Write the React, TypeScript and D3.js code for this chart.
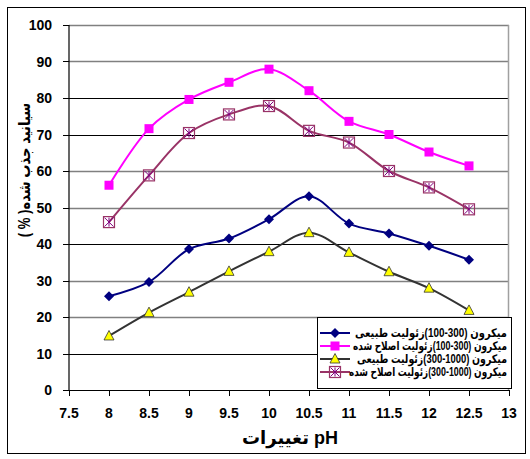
import React from "react";
import * as d3 from "d3";

const phValues = [8, 8.5, 9, 9.5, 10, 10.5, 11, 11.5, 12, 12.5];
const naturalFine = [25.7, 29.6, 38.6, 41.5, 46.8, 53.1, 45.6, 42.9, 39.5, 35.7];
const modifiedFine = [56.1, 71.6, 79.6, 84.3, 87.9, 82.0, 73.6, 70.0, 65.2, 61.4];
const naturalCoarse = [14.8, 21.2, 26.8, 32.5, 37.9, 43.1, 37.7, 32.4, 27.9, 21.8];
const modifiedCoarse = [46.0, 58.8, 70.4, 75.5, 77.8, 71.0, 67.8, 60.0, 55.5, 49.5];

const xTicks = [7.5, 8, 8.5, 9, 9.5, 10, 10.5, 11, 11.5, 12, 12.5, 13];
const yTicks = [0, 10, 20, 30, 40, 50, 60, 70, 80, 90, 100];
const darkGrid = [10, 40, 70, 80];

// legend label pieces, in visual left-to-right order
const legendPieces = [
  ["زئولیت طبیعی", "(100-300) ", "میکرون"],
  ["زئولیت اصلاح شده", "(100-300) ", "میکرون"],
  ["زئولیت طبیعی", "(300-1000) ", "میکرون"],
  ["زئولیت اصلاح شده", "(300-1000) ", "میکرون"],
];
const xTitle = "تغییرات pH";
const yTitle = "سیانید جذب شده( % )";

type Kind = "diamond" | "square" | "triangle" | "xbox";
const series: { values: number[]; color: string; kind: Kind }[] = [
  { values: naturalFine, color: "#000080", kind: "diamond" },
  { values: modifiedFine, color: "#FF00FF", kind: "square" },
  { values: naturalCoarse, color: "#333333", kind: "triangle" },
  { values: modifiedCoarse, color: "#993366", kind: "xbox" },
];

const W = 530;
const H = 459;
const x = d3.scaleLinear().domain([7.5, 13]).range([69, 509]);
const y = d3.scaleLinear().domain([0, 100]).range([390, 25]);

const FONT = "'Liberation Sans Narrow', 'Liberation Sans', Arial, 'DejaVu Sans', sans-serif";
const AFONT = "'Liberation Sans', Arial, 'DejaVu Sans', sans-serif";
const LEG_SIZE = 12;
const legendWidths = [152, 154, 150, 158];

let measureCtx: CanvasRenderingContext2D | null = null;
function measure(text: string, size: number): number {
  if (!measureCtx) {
    const c = document.createElement("canvas");
    measureCtx = c.getContext("2d");
  }
  if (!measureCtx) return text.length * size * 0.5;
  measureCtx.font = `bold ${size}px 'Liberation Sans', Arial, 'DejaVu Sans', sans-serif`;
  return measureCtx.measureText(text).width;
}

function Marker({ kind, cx, cy }: { kind: Kind; cx: number; cy: number }) {
  if (kind === "diamond") {
    const r = 5;
    return <path d={`M${cx},${cy - r}L${cx + r},${cy}L${cx},${cy + r}L${cx - r},${cy}Z`} fill="#000080" />;
  }
  if (kind === "square") {
    return <rect x={cx - 4.5} y={cy - 4.5} width={9} height={9} fill="#FF00FF" />;
  }
  if (kind === "triangle") {
    return (
      <path
        d={`M${cx},${cy - 5.5}L${cx + 5},${cy + 4}L${cx - 5},${cy + 4}Z`}
        fill="#FFFF00"
        stroke="#333333"
        strokeWidth={0.8}
      />
    );
  }
  const s = 5.5;
  return (
    <g>
      <rect x={cx - s} y={cy - s} width={2 * s} height={2 * s} fill="none" stroke="#993366" strokeWidth={1.2} />
      <path
        d={`M${cx - s + 1},${cy - s + 1}L${cx + s - 1},${cy + s - 1}M${cx + s - 1},${cy - s + 1}L${cx - s + 1},${cy + s - 1}M${cx},${cy - s + 1}L${cx},${cy + s - 1}`}
        stroke="#800080"
        strokeWidth={1}
      />
    </g>
  );
}

function LegendLabel({
  pieces,
  right,
  yy,
  target,
}: {
  pieces: string[];
  right: number;
  yy: number;
  target: number;
}) {
  const widths = pieces.map((p) => measure(p, LEG_SIZE));
  const total = widths.reduce((a, b) => a + b, 0);
  const sx = total > 0 ? target / total : 1;
  let cur = right - total;
  return (
    <g transform={`translate(${right},0) scale(${sx},1) translate(${-right},0)`}>
      {pieces.map((p, i) => {
        const px = cur;
        cur += widths[i];
        return (
          <text
            key={i}
            x={px}
            y={yy}
            textAnchor="start"
            direction="ltr"
            fontFamily={AFONT}
            fontWeight="bold"
            fontSize={LEG_SIZE}
            fill="#000"
            style={{ whiteSpace: "pre" }}
          >
            {p}
          </text>
        );
      })}
    </g>
  );
}

export default function App() {
  const line = d3
    .line<number>()
    .x((_, i) => x(phValues[i]))
    .y((d) => y(d))
    .curve(d3.curveCatmullRom.alpha(0.5));

  const legendX = 317;
  const legendY = 317;
  const legendW = 194;
  const legendH = 71;
  const rowY = [333, 346, 359, 372];

  return (
    <svg width={W} height={H} style={{ position: "absolute", left: 0, top: 0, background: "#fff" }}>
      <rect x={0} y={0} width={W} height={H} fill="#fff" />
      <rect x={7.5} y={7.5} width={518} height={446} fill="none" stroke="#000" strokeWidth={1} />

      {yTicks.map((t) => (
        <line
          key={`g${t}`}
          x1={x(7.5)}
          x2={x(13)}
          y1={Math.round(y(t)) + 0.5}
          y2={Math.round(y(t)) + 0.5}
          stroke={t === 0 || darkGrid.includes(t) ? "#000" : "#808080"}
          strokeWidth={t === 0 || darkGrid.includes(t) ? 1 : 1.5}
        />
      ))}
      <line x1={x(13) - 0.5} x2={x(13) - 0.5} y1={y(100)} y2={y(0)} stroke="#A0A0A0" strokeWidth={1.5} />
      <line x1={x(7.5)} x2={x(7.5)} y1={y(100)} y2={y(0) + 0.5} stroke="#000" strokeWidth={1.2} />

      {yTicks.map((t) => (
        <g key={`yt${t}`}>
          <line x1={x(7.5) - 6} x2={x(7.5)} y1={Math.round(y(t)) + 0.5} y2={Math.round(y(t)) + 0.5} stroke="#000" />
          <text x={52} y={y(t) + 5} textAnchor="end" fontFamily={FONT} fontWeight="bold" fontSize={14} fill="#000">
            {t}
          </text>
        </g>
      ))}
      {xTicks.map((t) => (
        <g key={`xt${t}`}>
          <line x1={Math.round(x(t)) + 0.5} x2={Math.round(x(t)) + 0.5} y1={y(0)} y2={y(0) + 6} stroke="#000" />
          <text x={x(t)} y={418} textAnchor="middle" fontFamily={FONT} fontWeight="bold" fontSize={14} fill="#000">
            {t}
          </text>
        </g>
      ))}

      {series.map((s, i) => (
        <path key={`l${i}`} d={line(s.values) || ""} fill="none" stroke={s.color} strokeWidth={2} />
      ))}
      {series.map((s, i) => (
        <g key={`m${i}`}>
          {s.values.map((v, j) => (
            <Marker key={j} kind={s.kind} cx={x(phValues[j])} cy={y(v)} />
          ))}
        </g>
      ))}

      <rect
        x={legendX + 0.5}
        y={legendY + 0.5}
        width={legendW}
        height={legendH}
        fill="#fff"
        stroke="#000"
        strokeWidth={1}
      />
      {series.map((s, i) => (
        <g key={`lg${i}`}>
          <line x1={320} x2={350} y1={rowY[i]} y2={rowY[i]} stroke={s.color} strokeWidth={2} />
          <Marker kind={s.kind} cx={335} cy={rowY[i]} />
          <LegendLabel pieces={legendPieces[i]} right={507} yy={rowY[i] + 4} target={legendWidths[i]} />
        </g>
      ))}

      <text x={290} y={444} textAnchor="middle" fontFamily={AFONT} fontWeight="bold" fontSize={18} fill="#000">
        {xTitle}
      </text>
      <text
        transform="translate(30,170) rotate(-90) scale(0.82,1)"
        textAnchor="middle"
        direction="rtl"
        fontFamily={AFONT}
        fontWeight="bold"
        fontSize={16}
        fill="#000"
      >
        {yTitle}
      </text>
    </svg>
  );
}
